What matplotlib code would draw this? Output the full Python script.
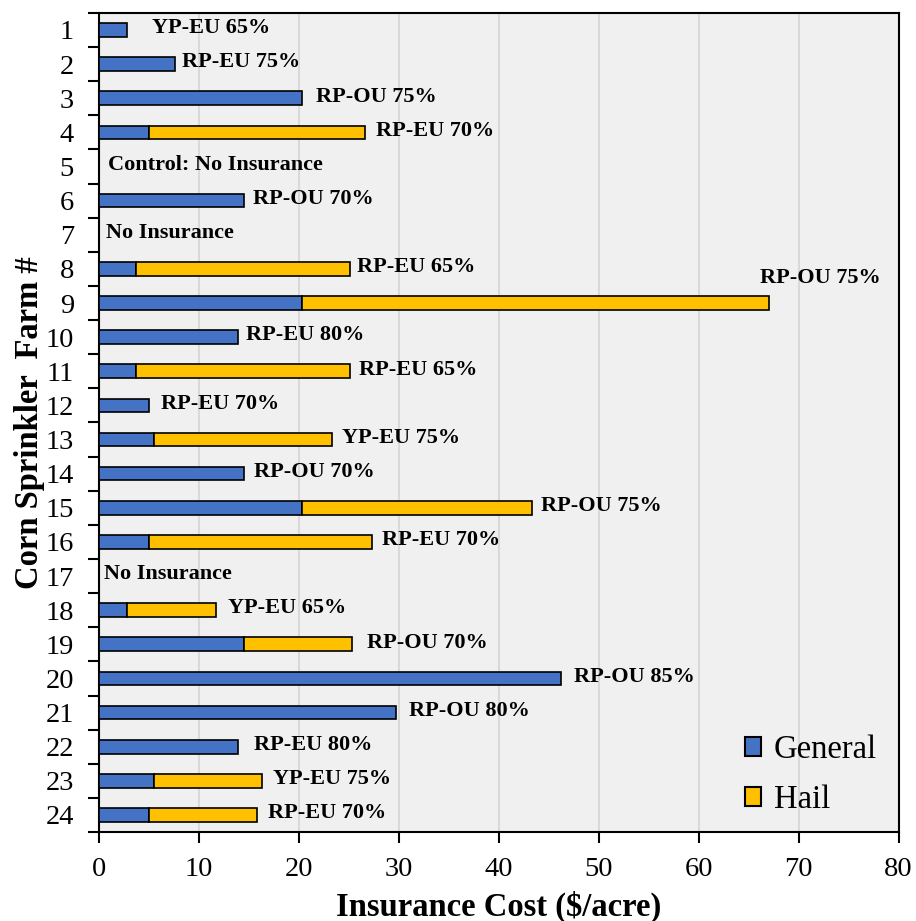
import numpy as np
import matplotlib
matplotlib.use('Agg')
import matplotlib.pyplot as plt
from matplotlib.patches import Patch

plt.rcParams['font.family'] = ['Liberation Serif', 'DejaVu Serif']

farms = [str(i) for i in range(1, 25)]
general = [2.8, 7.6, 20.3, 5.0, 0, 14.5, 0, 3.7, 20.3, 13.9, 3.7, 5.0,
           5.5, 14.5, 20.3, 5.0, 0, 2.8, 14.5, 46.2, 29.7, 13.9, 5.5, 5.0]
hail = [0, 0, 0, 21.6, 0, 0, 0, 21.4, 46.7, 0, 21.4, 0,
        17.8, 0, 23.0, 22.3, 0, 8.9, 10.8, 0, 0, 0, 10.8, 10.8]
labels = ['YP-EU 65%', 'RP-EU 75%', 'RP-OU 75%', 'RP-EU 70%', 'Control: No Insurance',
          'RP-OU 70%', 'No Insurance', 'RP-EU 65%', 'RP-OU 75%', 'RP-EU 80%',
          'RP-EU 65%', 'RP-EU 70%', 'YP-EU 75%', 'RP-OU 70%', 'RP-OU 75%',
          'RP-EU 70%', 'No Insurance', 'YP-EU 65%', 'RP-OU 70%', 'RP-OU 85%',
          'RP-OU 80%', 'RP-EU 80%', 'YP-EU 75%', 'RP-EU 70%']
label_x = [5.3, 8.3, 21.7, 27.7, 0.9, 15.4, 0.7, 25.8, 66.1, 14.7, 26.0, 6.2,
           24.3, 15.5, 44.2, 28.3, 0.5, 12.9, 26.8, 47.5, 31.0, 15.5, 17.4, 16.9]

c_gen = '#4472C4'
c_hail = '#FFC000'

fig = plt.figure(figsize=(9.16, 9.21), dpi=100)
ax = fig.add_axes([0.108, 0.0966, 0.873, 0.8894])
ax.set_facecolor('#f0f0f0')

y = np.arange(len(farms))
ax.barh(y, general, height=0.4, color=c_gen, edgecolor='black', linewidth=1.2, zorder=3)
ax.barh(y, hail, left=general, height=0.4, color=c_hail, edgecolor='black', linewidth=1.2, zorder=3)
# hide zero-width bars' edges
for p in ax.patches:
    if p.get_width() == 0:
        p.set_visible(False)

for i, (lx, lab) in enumerate(zip(label_x, labels)):
    yy = i - 0.72 if i == 8 else i - 0.05
    ax.text(lx, yy, lab, ha='left', va='center', fontsize=16, fontweight='bold', zorder=4)

ax.set_xlim(0, 80)
ax.set_ylim(23.5, -0.5)
ax.set_xticks(np.arange(0, 81, 10))
ax.set_yticks(y)
ax.set_yticklabels(farms)
ax.set_yticks(np.arange(-0.5, 24, 1), minor=True)
ax.tick_params(axis='y', which='major', length=0, labelsize=20.5, pad=18)
ax.tick_params(axis='y', which='minor', length=8, width=1.5, direction='out')
ax.tick_params(axis='x', length=8, width=1.5, labelsize=20.5, pad=10)
ax.xaxis.grid(True, color='#d9d9d9', linewidth=1.5, zorder=0)
ax.set_axisbelow(True)
for s in ax.spines.values():
    s.set_linewidth(1.5)

ax.set_xlabel('Insurance Cost ($/acre)', fontsize=23.5, fontweight='bold', labelpad=6)
ax.set_ylabel('Corn Sprinkler  Farm #', fontsize=23.5, fontweight='bold', labelpad=0)

handles = [Patch(facecolor=c_gen, edgecolor='black', linewidth=1.5, label='General'),
           Patch(facecolor=c_hail, edgecolor='black', linewidth=1.5, label='Hail')]
ax.legend(handles=handles, loc='lower right', bbox_to_anchor=(1.01, -0.015), frameon=False,
          fontsize=23.5, handlelength=0.5, handleheight=0.5, handletextpad=0.4, labelspacing=0.6)

plt.savefig('out.png', dpi=100)
